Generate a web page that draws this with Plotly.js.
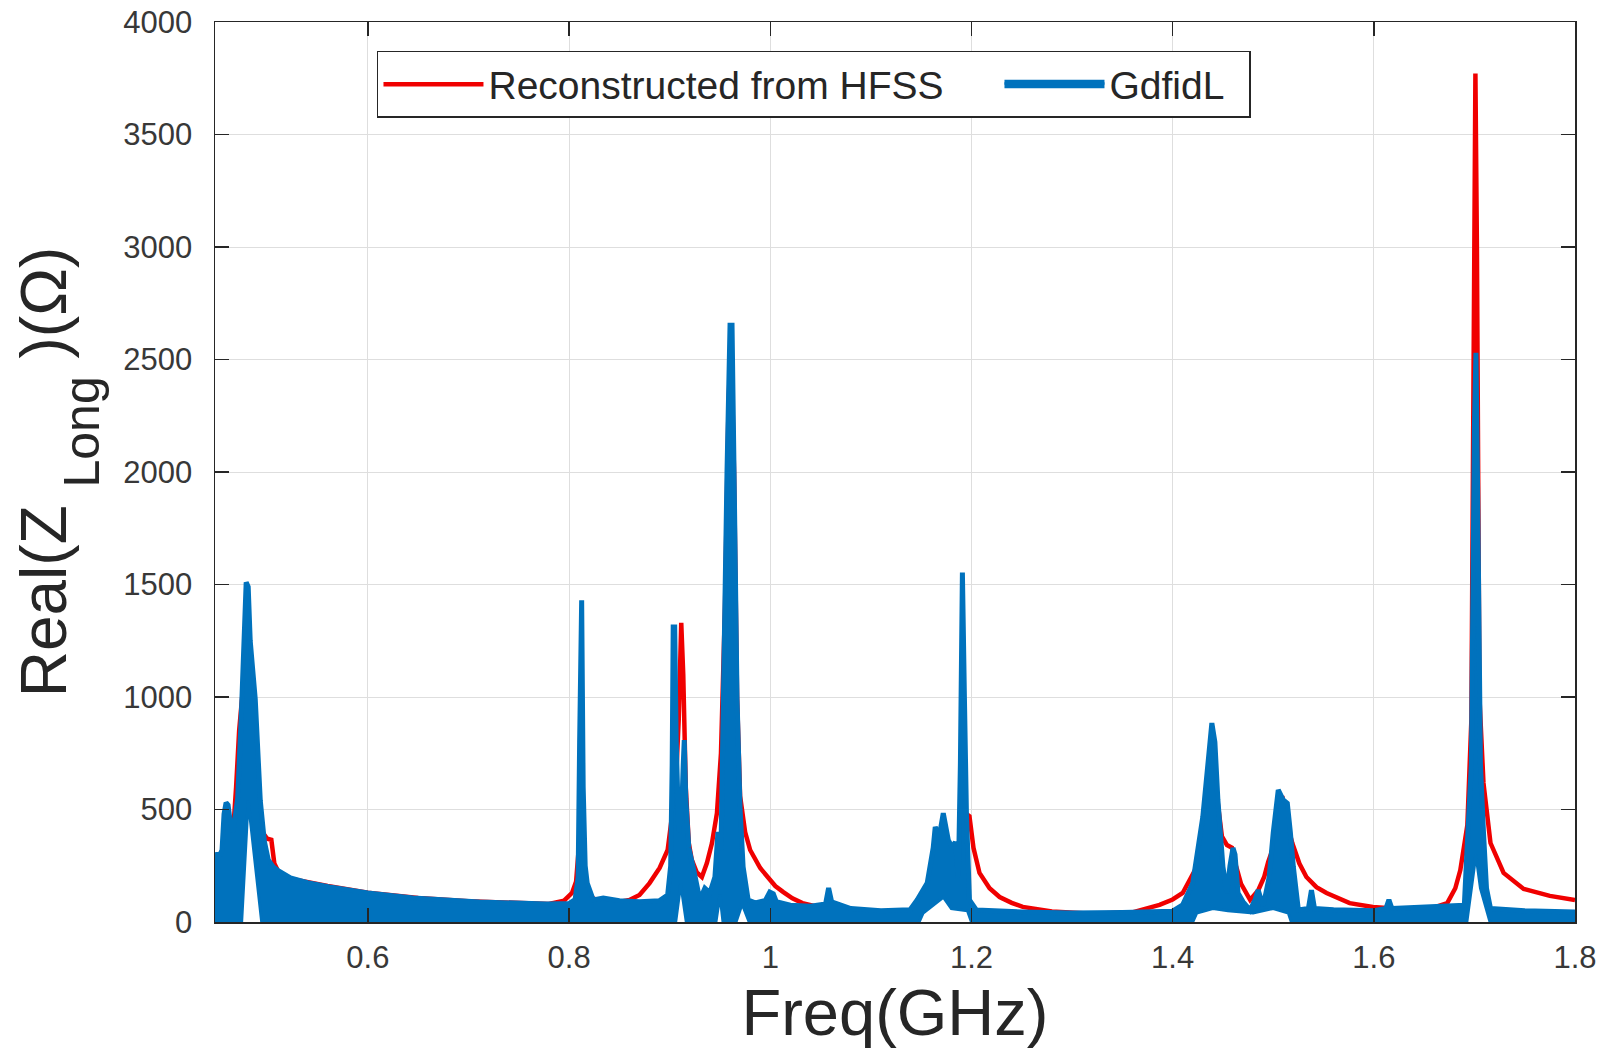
<!DOCTYPE html>
<html>
<head>
<meta charset="utf-8">
<script src="https://cdn.plot.ly/plotly-3.0.1.min.js"></script>
<style>html,body{margin:0;padding:0;background:#fff;}#chart{width:1602px;height:1054px;}</style>
</head>
<body>
<div id="chart"></div>
<script>
// Reconstructed from HFSS (GHz, Ohm)
const hfssFreq = [0.448,0.455,0.462,0.466,0.469,0.472,0.475,0.478,0.482,0.486,0.490,0.495,0.500,0.504,0.507,0.512,0.520,0.540,0.560,0.600,0.650,0.700,0.750,0.780,0.795,0.803,0.807,0.810,0.8115,0.813,0.816,0.822,0.830,0.845,0.860,0.870,0.880,0.890,0.898,0.901,0.9035,0.906,0.909,0.9115,0.9135,0.916,0.919,0.922,0.927,0.932,0.937,0.942,0.947,0.951,0.955,0.9585,0.961,0.964,0.967,0.970,0.975,0.980,0.990,0.997,1.005,1.013,1.022,1.032,1.052,1.080,1.110,1.140,1.155,1.162,1.168,1.172,1.175,1.180,1.186,1.191,1.195,1.198,1.202,1.208,1.218,1.228,1.240,1.251,1.280,1.320,1.360,1.387,1.400,1.410,1.424,1.431,1.436,1.440,1.444,1.449,1.454,1.459,1.463,1.468,1.477,1.485,1.491,1.495,1.500,1.505,1.509,1.513,1.519,1.526,1.533,1.543,1.553,1.576,1.599,1.630,1.660,1.673,1.681,1.686,1.693,1.697,1.700,1.701,1.7025,1.705,1.709,1.716,1.729,1.749,1.775,1.800];
const hfssZ = [180,220,300,400,600,850,1000,950,700,520,450,400,370,365,260,215,195,175,160,130,107,92,82,80,95,130,180,350,1000,350,170,110,92,85,98,120,173,240,320,440,530,600,900,1330,1100,600,350,276,220,200,262,350,484,750,1400,2300,2600,2000,1000,560,400,320,240,200,160,133,105,84,62,47,40,45,70,150,230,180,115,160,260,400,480,470,330,218,150,111,85,67,47,37,43,76,100,129,245,380,600,820,560,380,342,330,250,170,98,140,200,267,330,450,560,450,350,260,200,155,129,84,67,57,65,84,150,231,431,900,3000,3771,3000,1000,618,351,218,147,116,98];

// GdfidL: upper envelope of the (densely oscillating) result
const gdfidlFreq = [0.448,0.450,0.453,0.455,0.457,0.459,0.461,0.463,0.466,0.4705,0.474,0.477,0.479,0.481,0.483,0.488,0.493,0.497,0.501,0.506,0.510,0.523,0.540,0.562,0.600,0.645,0.711,0.778,0.800,0.806,0.809,0.8105,0.8115,0.8125,0.814,0.816,0.818,0.824,0.834,0.850,0.870,0.890,0.898,0.901,0.9025,0.9035,0.905,0.9065,0.909,0.912,0.9135,0.9145,0.916,0.919,0.924,0.930,0.935,0.940,0.945,0.948,0.951,0.953,0.957,0.960,0.962,0.964,0.967,0.970,0.973,0.978,0.985,0.995,0.9995,1.003,1.006,1.020,1.040,1.055,1.058,1.061,1.080,1.110,1.139,1.146,1.156,1.162,1.164,1.168,1.172,1.177,1.181,1.184,1.187,1.189,1.191,1.193,1.195,1.198,1.205,1.250,1.300,1.350,1.400,1.410,1.420,1.430,1.436,1.439,1.442,1.445,1.450,1.454,1.457,1.460,1.462,1.465,1.470,1.477,1.482,1.485,1.490,1.496,1.500,1.505,1.510,1.514,1.517,1.520,1.525,1.535,1.538,1.541,1.560,1.600,1.612,1.615,1.618,1.650,1.680,1.690,1.6935,1.697,1.700,1.7015,1.703,1.706,1.709,1.712,1.716,1.750,1.800];
const gdfidlZ = [280,300,300,320,480,530,520,450,400,550,900,1350,1510,1490,1250,990,540,360,276,245,231,196,175,156,129,107,89,80,82,100,200,800,1430,1430,600,250,173,98,107,95,90,95,120,250,700,1311,1311,800,400,500,700,809,550,330,230,98,150,130,200,400,320,987,2000,2652,2652,2000,987,500,245,98,85,95,133,125,90,75,70,80,151,90,60,50,55,98,173,330,422,380,484,364,330,356,200,700,1553,1000,484,98,53,45,40,42,48,76,173,467,750,884,800,542,245,129,250,329,300,129,90,53,100,142,70,200,395,587,542,528,400,245,53,60,142,60,55,50,60,98,60,65,70,75,400,700,2200,2530,2000,700,400,150,60,50,45];

// GdfidL: lower envelope of the oscillation (non-zero only under resonances)
const gdfidlLowFreq = [0.448,0.4745,0.481,0.4944,0.906,0.911,0.9165,0.946,0.950,0.953,0.966,0.972,0.979,1.148,1.152,1.172,1.180,1.196,1.200,1.420,1.424,1.440,1.455,1.480,1.500,1.515,1.518,1.6925,1.697,1.7015,1.706,1.7155,1.800];
const gdfidlLowZ = [0,0,540,0,0,170,0,0,120,0,0,80,0,0,40,110,60,50,0,0,40,60,50,40,60,40,0,0,150,300,150,0,0];

const xTickVals = [0.6,0.8,1.0,1.2,1.4,1.6,1.8];
const xTickText = ['0.6','0.8','1','1.2','1.4','1.6','1.8'];
const yTickVals = [0,500,1000,1500,2000,2500,3000,3500,4000];
const yTickText = ['0','500','1000','1500','2000','2500','3000','3500','4000'];

const RED = '#f00000';
const BLUE = '#0072BD';
const FONT = 'Liberation Sans, Arial, Helvetica, sans-serif';

const traces = [
  {x: hfssFreq, y: hfssZ, type: 'scatter', mode: 'lines', name: 'Reconstructed from HFSS',
   line: {color: RED, width: 4.5}, legendwidth: 506},
  {x: gdfidlLowFreq, y: gdfidlLowZ, type: 'scatter', mode: 'lines', name: 'GdfidL',
   legendgroup: 'g', showlegend: false, line: {color: BLUE, width: 3}},
  {x: gdfidlFreq, y: gdfidlZ, type: 'scatter', mode: 'lines', name: 'GdfidL',
   legendgroup: 'g', fill: 'tonexty', fillcolor: BLUE, line: {color: BLUE, width: 5}, legendwidth: 135}
];

const axisCommon = {
  showline: true, linecolor: '#262626', linewidth: 1.5, mirror: 'ticks',
  ticks: 'inside', ticklen: 14, tickwidth: 1.5, tickcolor: '#262626',
  showgrid: true, gridcolor: '#dedede', gridwidth: 1, zeroline: false,
  tickfont: {family: FONT, size: 31, color: '#383838'}, tickmode: 'array'
};

const layout = {
  width: 1602, height: 1054,
  margin: {l: 215, r: 27, t: 22, b: 132},
  paper_bgcolor: '#ffffff', plot_bgcolor: '#ffffff',
  font: {family: FONT, color: '#262626'},
  showlegend: true,
  xaxis: Object.assign({}, axisCommon, {
    range: [0.448, 1.8], tickvals: xTickVals, ticktext: xTickText, ticklabelstandoff: 7,
    title: {text: 'Freq(GHz)', font: {family: FONT, size: 65, color: '#262626'}, standoff: 16}
  }),
  yaxis: Object.assign({}, axisCommon, {
    range: [0, 4000], tickvals: yTickVals, ticktext: yTickText, ticklabelstandoff: 15,
    title: {text: 'Real(Z <sub><span style="font-size:50px;baseline-shift:-20px">Long</span></sub> )(Ω)',
            font: {family: FONT, size: 64, color: '#262626'}, standoff: 36}
  }),
  legend: {
    orientation: 'h', x: 0.1191, y: 0.968, xanchor: 'left', yanchor: 'top',
    bgcolor: '#ffffff', bordercolor: '#262626', borderwidth: 1.5,
    font: {family: FONT, size: 39, color: '#262626'},
    itemwidth: 100, traceorder: 'normal'
  }
};

Plotly.newPlot('chart', traces, layout, {displayModeBar: false, staticPlot: true});
</script>
</body>
</html>
